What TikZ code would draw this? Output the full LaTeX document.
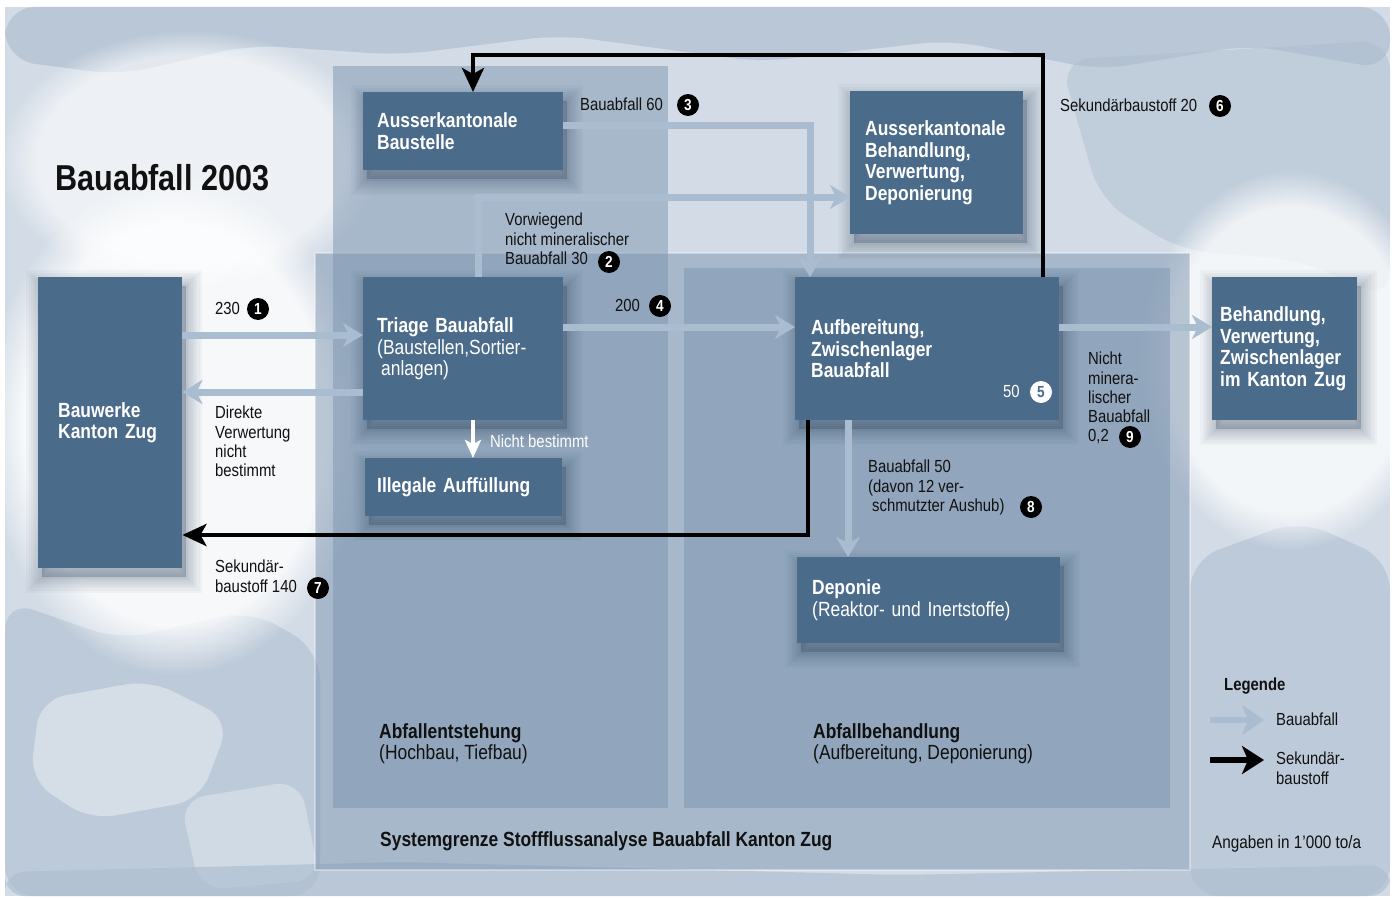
\documentclass[tikz,border=0pt]{standalone}
\usepackage{fontspec}
\setmainfont{Liberation Sans}[FakeStretch=0.85]
\usetikzlibrary{arrows.meta,fadings}

\definecolor{bgbase}{HTML}{D3DCE6}
\definecolor{rock}{HTML}{AFBFD1}
\definecolor{rocklight}{HTML}{EEF2F6}
\definecolor{zone}{HTML}{7D95B0}
\definecolor{boxblue}{HTML}{4B6B8B}
\definecolor{shadowc}{HTML}{1F3550}
\definecolor{flowblue}{HTML}{AABCCF}
\definecolor{ink}{HTML}{111111}

\begin{document}
\begin{tikzpicture}[x=1pt,y=-1pt,
  shadowring/.style={preaction={draw=shadowc, line width=#1, opacity=.035,
    transform canvas={xshift=4pt,yshift=-9pt}}},
  softshadow/.style={shadowring=32pt, shadowring=27pt, shadowring=22pt, shadowring=18pt,
    shadowring=14pt, shadowring=10pt, shadowring=6pt, shadowring=3pt,
    preaction={fill=shadowc, opacity=.25, transform canvas={xshift=4pt,yshift=-9pt}}},
  box/.style={softshadow, fill=boxblue, text=white, align=left, anchor=north west, inner ysep=0pt,
    font=\fontsize{20.5}{21.5}\selectfont},
  boxb/.style={box, font=\fontsize{20.5}{21.5}\selectfont\bfseries},
  lbl/.style={anchor=north west, align=left, inner sep=0pt, text=ink,
    font=\fontsize{17.5}{19.2}\selectfont},
  zlbl/.style={lbl, font=\fontsize{20.5}{21}\selectfont},
  num/.style={circle, fill=black, text=white, inner sep=0pt, minimum size=22pt,
    font=\fontsize{16}{16}\selectfont\bfseries},
  numw/.style={num, fill=white, text=boxblue},
  zonebox/.style={fill=zone, fill opacity=0.5},
  flow/.style={draw=flowblue, line width=7pt, -{Stealth[length=20pt,width=24pt,inset=6pt]}},
  wflow/.style={draw=white, line width=3.5pt, -{Stealth[length=18pt,width=16pt,inset=4pt]}},
  sek/.style={draw=black, line width=4.5pt, -{Stealth[length=24pt,width=22pt,inset=6pt]}},
]
\useasboundingbox (0,0) rectangle (1395,899);

% ---------- stone background ----------
\fill[white] (0,0) rectangle (1395,899);
\fill[bgbase] (5,7) rectangle (1390,896);
\fill[rock, opacity=.7, rounded corners=30] (5,7) -- (1390,7) -- (1390,70) -- (1250,45)
  -- (1100,70) -- (950,40) -- (760,62) -- (560,35) -- (400,55) -- (250,45) -- (120,75) -- (5,60) -- cycle;
\fill[rock, opacity=.5, rounded corners=30] (1060,60) -- (1390,40) -- (1390,300) -- (1300,260)
  -- (1180,250) -- (1100,200) -- cycle;
\fill[rock, opacity=.6, rounded corners=30] (5,600) -- (120,640) -- (250,610) -- (320,650)
  -- (320,896) -- (5,896) -- cycle;
\fill[rocklight, opacity=.5, rounded corners=25] (40,700) -- (150,680) -- (230,720) -- (200,800)
  -- (90,820) -- (30,780) -- cycle;
\fill[rocklight, opacity=.4, rounded corners=25] (180,800) -- (300,780) -- (320,880) -- (200,890) -- cycle;
\fill[rock, opacity=.6, rounded corners=30] (1190,560) -- (1300,520) -- (1390,560) -- (1390,896)
  -- (1190,896) -- cycle;
\fill[rock, opacity=.7, rounded corners=20] (5,872) -- (400,862) -- (900,875) -- (1390,865)
  -- (1390,896) -- (5,896) -- cycle;
\fill[white, opacity=.6, path fading=circle with fuzzy edge 20 percent] (190,160) ellipse (190pt and 130pt);
\fill[white, opacity=.8, path fading=circle with fuzzy edge 20 percent] (175,425) ellipse (190pt and 250pt);
\fill[white, opacity=.75, path fading=circle with fuzzy edge 20 percent] (1290,360) ellipse (150pt and 190pt);

% ---------- system zones ----------
\fill[zonebox] (315,253) rectangle (1190,870);
\draw[white, opacity=.35, line width=1.5pt] (315,253) rectangle (1190,870);
\fill[zonebox] (333,66) rectangle (668,808);
\fill[zonebox] (684,268) rectangle (1170,808);

% ---------- title ----------
\node[anchor=west, inner sep=0pt, text=ink, font=\fontsize{36}{40}\selectfont\bfseries]
  (title) at (55,178) {Bauabfall 2003};

% ---------- process boxes ----------
\node[boxb, text width=104pt, inner xsep=20pt, minimum height=291pt] (bw) at (38,277)
  {Bauwerke\\Kanton Zug};
\node[boxb, text width=172pt, inner xsep=14pt, minimum height=78pt] (akb) at (363,92)
  {Ausserkantonale\\Baustelle};
\node[box, text width=172pt, inner xsep=14pt, minimum height=143pt] (tr) at (363,277)
  {{\bfseries Triage Bauabfall}\\(Baustellen,Sortier-\\\hspace*{4pt}anlagen)};
\node[boxb, text width=173pt, inner xsep=12pt, minimum height=58pt] (ill) at (365,458)
  {Illegale Auffüllung};
\node[boxb, text width=143pt, inner xsep=15pt, minimum height=143pt] (akbh) at (850,91)
  {Ausserkantonale\\Behandlung,\\Verwertung,\\Deponierung};
\node[boxb, text width=232pt, inner xsep=16pt, minimum height=143pt] (auf) at (795,277)
  {Aufbereitung,\\Zwischenlager\\Bauabfall};
\node[box, text width=233pt, inner xsep=15pt, minimum height=86pt] (dep) at (797,557)
  {{\bfseries Deponie}\\(Reaktor- und Inertstoffe)};
\node[boxb, text width=129pt, inner xsep=8pt, minimum height=143pt] (beh) at (1212,277)
  {Behandlung,\\Verwertung,\\Zwischenlager\\im Kanton Zug};

% ---------- waste flows ----------
\draw[flow] (bw.east |- 0,335) -- (tr.west |- 0,335);
\draw[flow] (tr.west |- 0,392) -- (bw.east |- 0,392);
\draw[flow] (akb.east |- 0,125) -| (auf.north -| 810,0);
\draw[flow] (tr.north -| 478,0) |- (akbh.west |- 0,197);
\draw[flow] (tr.east |- 0,327) -- (auf.west |- 0,327);
\draw[flow] (auf.east |- 0,327) -- (beh.west |- 0,327);
\draw[flow] (auf.south -| 848,0) -- (dep.north -| 848,0);
\draw[wflow] (tr.south -| 473,0) -- (ill.north -| 473,0);

% ---------- secondary building materials ----------
\draw[sek] (auf.north -| 1043,0) |- (473,55) -- (akb.north -| 473,0);
\draw[sek] (auf.south -| 808,0) |- (bw.east |- 0,535);

% ---------- flow labels ----------
\node[lbl] (l3) at (580,98) {Bauabfall 60};
\node[num] (n3) at (688,105) {3};
\node[lbl] (l6) at (1060,99) {Sekundärbaustoff 20};
\node[num] (n6) at (1220,106) {6};
\node[lbl] (l2) at (505,213) {Vorwiegend\\nicht mineralischer\\Bauabfall 30};
\node[num] (n2) at (609,262) {2};
\node[lbl] (l1) at (215,302) {230};
\node[num] (n1) at (258,309) {1};
\node[lbl] (l4) at (615,299) {200};
\node[num] (n4) at (660,306) {4};
\node[lbl] (ld) at (215,406) {Direkte\\Verwertung\\nicht\\bestimmt};
\node[lbl, text=white] (lnb) at (490,435) {Nicht bestimmt};
\node[lbl, text=white] (l5) at (1003,385) {50};
\node[numw] (n5) at (1041,392) {5};
\node[lbl] (l9) at (1088,352) {Nicht\\minera-\\lischer\\Bauabfall\\0,2};
\node[num] (n9) at (1130,437) {9};
\node[lbl] (l8) at (868,460) {Bauabfall 50\\(davon 12 ver-\\\hspace*{4pt}schmutzter Aushub)};
\node[num] (n8) at (1031,507) {8};
\node[lbl] (l7) at (215,560) {Sekundär-\\baustoff 140};
\node[num] (n7) at (318,588) {7};

% ---------- zone labels ----------
\node[zlbl] (zentst) at (379,723) {{\bfseries Abfallentstehung}\\(Hochbau, Tiefbau)};
\node[zlbl] (zbeh) at (813,723) {{\bfseries Abfallbehandlung}\\(Aufbereitung, Deponierung)};
\node[zlbl] (sysgr) at (380,831) {\bfseries Systemgrenze Stoffflussanalyse Bauabfall Kanton Zug};
\node[lbl, font=\fontsize{18}{19}\selectfont] (units) at (1212,835) {Angaben in 1'000 to/a};

% ---------- legend ----------
\node[lbl] (leg) at (1224,678) {\bfseries Legende};
\coordinate (lga) at (1210,720);
\coordinate (lgb) at (1264,720);
\coordinate (lgc) at (1210,760);
\coordinate (lgd) at (1264,760);
\draw[flow, line width=6pt, -{Stealth[length=22pt,width=30pt,inset=6pt]}] (lga) -- (lgb);
\draw[sek, line width=6pt, -{Stealth[length=22pt,width=28pt,inset=6pt]}] (lgc) -- (lgd);
\node[lbl] (lg1) at (1276,713) {Bauabfall};
\node[lbl] (lg2) at (1276,752) {Sekundär-\\baustoff};
\end{tikzpicture}
\end{document}
